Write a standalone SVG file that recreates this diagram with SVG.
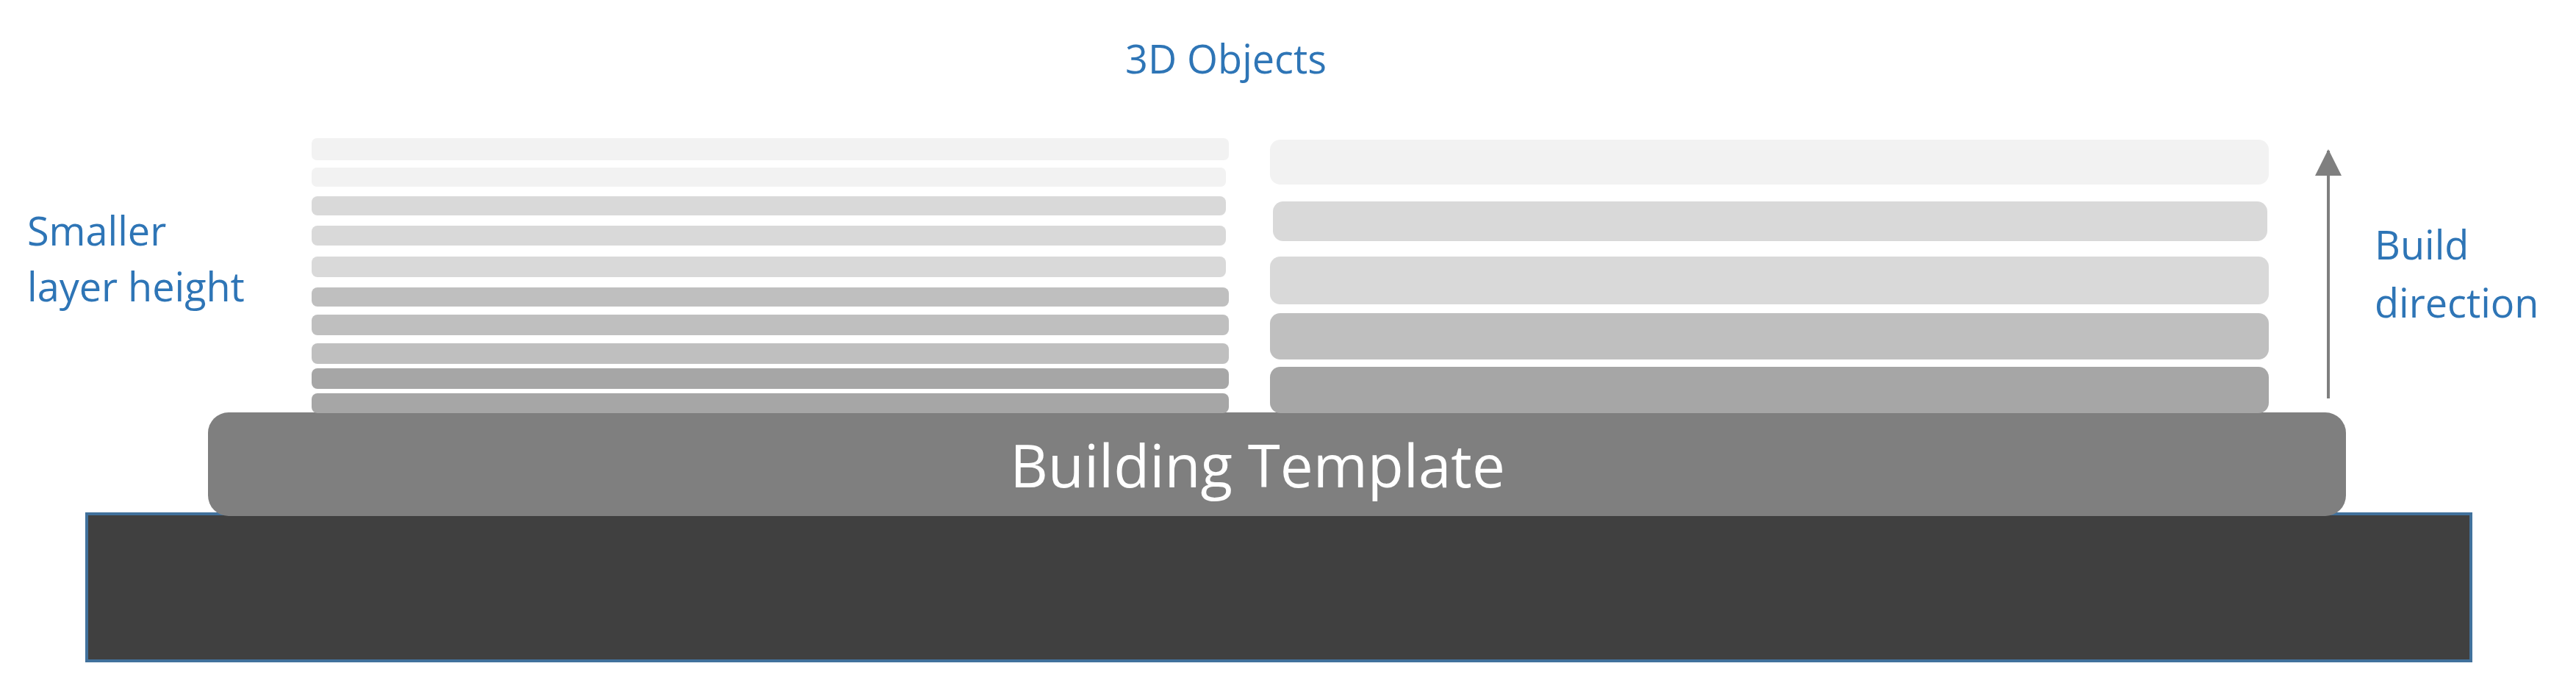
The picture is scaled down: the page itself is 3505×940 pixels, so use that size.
<svg xmlns="http://www.w3.org/2000/svg" width="3505" height="940" viewBox="0 0 3505 940">
  <style>
    .lbl { font-family: "Open Sans", "Liberation Sans", sans-serif; font-size: 54px; fill: #2e75b6; }
    .title { font-family: "Open Sans", "Liberation Sans", sans-serif; font-size: 80px; fill: #ffffff; }
    .l1 { fill: #f2f2f2; }
    .l2 { fill: #d9d9d9; }
    .l3 { fill: #bfbfbf; }
    .l4 { fill: #a6a6a6; }
  </style>
  <defs>
    <marker id="arrowhead" markerUnits="userSpaceOnUse" markerWidth="36" markerHeight="36" viewBox="0 0 36 36" refX="34" refY="18" orient="auto">
      <path d="M0,0 L36,18 L0,36 Z" fill="#7f7f7f"/>
    </marker>
  </defs>
  <rect width="3505" height="940" fill="#ffffff"/>

  <g id="base">
    <rect x="118" y="699" width="3244" height="200" fill="#404040" stroke="#41719c" stroke-width="4"/>
  </g>

  <g id="building-template">
    <rect x="283" y="561" width="2909" height="141" rx="28" ry="28" fill="#7f7f7f"/>
    <text class="title" x="1711" y="663" text-anchor="middle">Building Template</text>
  </g>

  <g id="fine-layers">
    <rect class="l1" x="424" y="188" width="1248" height="30" rx="7"/>
    <rect class="l1" x="424" y="228" width="1244" height="26" rx="7"/>
    <rect class="l2" x="424" y="267" width="1244" height="26" rx="8"/>
    <rect class="l2" x="424" y="307" width="1244" height="27" rx="8"/>
    <rect class="l2" x="424" y="349" width="1244" height="28" rx="8"/>
    <rect class="l3" x="424" y="391" width="1248" height="26" rx="8"/>
    <rect class="l3" x="424" y="428" width="1248" height="28" rx="8"/>
    <rect class="l3" x="424" y="467" width="1248" height="28" rx="8"/>
    <rect class="l4" x="424" y="501" width="1248" height="28" rx="8"/>
    <rect class="l4" x="424" y="535" width="1248" height="27" rx="8"/>
  </g>

  <g id="coarse-layers">
    <rect class="l1" x="1728" y="190" width="1359" height="61" rx="14"/>
    <rect class="l2" x="1732" y="274" width="1353" height="54" rx="14"/>
    <rect class="l2" x="1728" y="349" width="1359" height="65" rx="14"/>
    <rect class="l3" x="1728" y="426" width="1359" height="63" rx="14"/>
    <rect class="l4" x="1728" y="499" width="1359" height="63" rx="14"/>
  </g>

  <g id="label-3d-objects">
    <text class="lbl" x="1668" y="100" text-anchor="middle">3D Objects</text>
  </g>

  <g id="label-smaller-layer-height">
    <text class="lbl" x="37" y="334">Smaller</text>
    <text class="lbl" x="37" y="410">layer height</text>
  </g>

  <g id="label-build-direction">
    <text class="lbl" x="3231" y="353">Build</text>
    <text class="lbl" x="3231" y="432">direction</text>
  </g>

  <g id="connectors">
    <line x1="3168" y1="542" x2="3168" y2="205" stroke="#7f7f7f" stroke-width="4" marker-end="url(#arrowhead)"/>
  </g>
</svg>
